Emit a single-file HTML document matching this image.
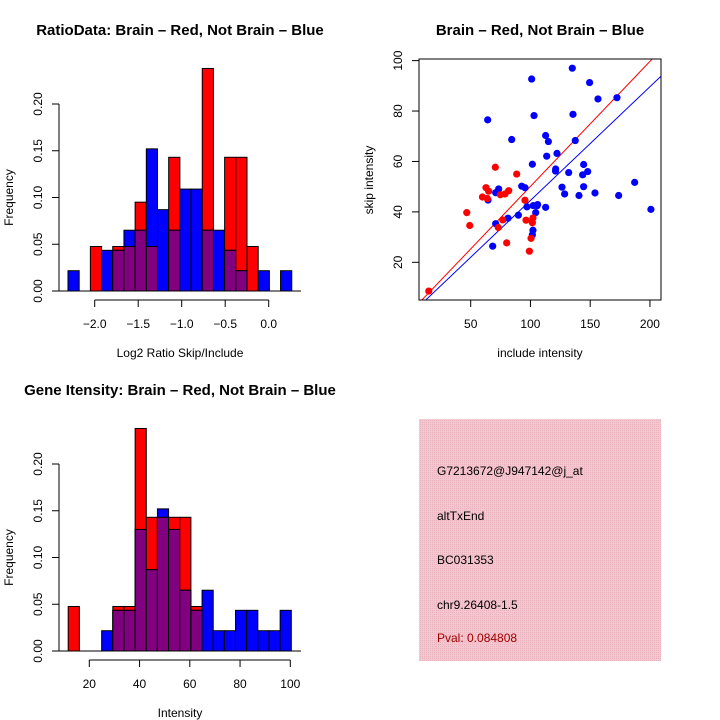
<!DOCTYPE html>
<html><head><meta charset="utf-8"><style>
body{margin:0;background:#fff}
svg{display:block;font-family:"Liberation Sans",sans-serif}
</style></head><body>
<svg id="s" width="720" height="720" viewBox="0 0 720 720">
<defs>
<pattern id="pk" width="2" height="2" patternUnits="userSpaceOnUse"><rect width="2" height="2" fill="#f4c6cf"/><rect width="1" height="1" fill="#e9b2bd"/></pattern>
</defs>
<g id="h1"></g>
<g id="sc"></g>
<g id="h2"></g>
<g>
<rect x="419" y="419" width="242" height="242" fill="url(#pk)"/>
<g font-size="12">
<text x="437" y="475">G7213672@J947142@j_at</text>
<text x="437" y="520">altTxEnd</text>
<text x="437" y="564">BC031353</text>
<text x="437" y="609">chr9.26408-1.5</text>
<text x="437" y="642" fill="#a00000">Pval: 0.084808</text>
</g></g>
</svg>
<script>
// Ratio histogram data (20 bins)
const ratioRed  = [0,0,0.0476,0,0.0476,0.0476,0.095,0.0476,0,0.143,0,0,0.238,0,0.143,0.143,0.0476,0,0,0];
const ratioBlue = [0.0217,0,0,0.0435,0.0435,0.065,0.065,0.152,0.087,0.065,0.109,0.109,0.065,0.065,0.0435,0.0217,0,0.0217,0,0.0217];
const ratioStart = -2.307, ratioBinW = 0.1286;
const ratioTicks = [-2.0,-1.5,-1.0,-0.5,0.0];
// Intensity histogram data (20 bins)
const intRed  = [0.0476,0,0,0,0.0476,0.0476,0.238,0.143,0.143,0.143,0.143,0.0476,0,0,0,0,0,0,0,0];
const intBlue = [0,0,0,0.0217,0.0435,0.0435,0.130,0.087,0.152,0.130,0.065,0.0435,0.065,0.0217,0.0217,0.0435,0.0435,0.0217,0.0217,0.0435];
const intStart = 11.6, intBinW = 4.44;
const intTicks = [20,40,60,80,100];
const freqTicks = [0,0.05,0.10,0.15,0.20];
const freqLabels = ["0.00","0.05","0.10","0.15","0.20"];
// Scatter data
const redX = [14.9,46.7,49.2,70.6,88.5,62.8,65.0,59.8,63.9,74.8,78.7,81.8,95.4,96.3,76.8,73.1,80.1,100.5,102.1,101.6,99.1];
const redY = [8.6,39.7,34.6,57.7,55.0,49.6,48.2,45.9,45.3,46.8,47.1,48.4,44.6,36.7,36.8,33.8,27.7,29.5,37.6,35.7,24.4];
const blueX = [135.0,101.0,149.5,156.5,172.4,64.2,103.0,135.6,84.3,112.7,115.0,137.5,113.6,122.2,101.6,121.1,121,132.0,144.5,147.9,143.7,126.4,144.5,128.6,140.6,154.0,173.8,187.2,200.8,92.7,95.4,73.4,70.9,64.5,97.1,102.4,106.0,105.5,112.7,104.4,89.9,81.2,70.9,102.1,101.6,68.4];
const blueY = [97.0,92.7,91.3,84.8,85.3,76.5,78.2,78.7,68.7,70.3,67.9,68.3,62.1,63.2,58.9,57.0,56.2,55.6,58.8,56.0,54.7,49.8,50.0,47.1,46.5,47.5,46.5,51.7,41.0,50.2,49.6,49.1,47.6,44.7,42.0,42.5,42.9,42.4,41.8,39.7,38.7,37.5,35.3,32.7,30.9,26.4];
const redFit = [0.496, 0.5];   // slope, intercept
const blueFit = [0.451, -0.55];
const scXTicks = [50,100,150,200];
const scYTicks = [20,40,60,80,100];

const NS="http://www.w3.org/2000/svg";
function mk(p,t,a){const e=document.createElementNS(NS,t);for(const k in a)e.setAttribute(k,a[k]);p.appendChild(e);return e;}

function hist(g, red, blue, start, bw, xTicks, xs, base, titleTxt, titleX, titleY, xlab, xlabY, tickFmt){
  const ys = v => base - v*935;
  const x = v => xs(v);
  for(let i=0;i<red.length;i++){
    const x0=x(start+i*bw), x1=x(start+(i+1)*bw);
    const r=red[i], b=blue[i];
    if(r>0){const e=mk(g,'rect',{x:x0,y:ys(r),width:x1-x0,height:ys(0)-ys(r),fill:'#ff0000',stroke:'#000','stroke-width':1});
      
      }
    if(b>0){const e=mk(g,'rect',{x:x0,y:ys(b),width:x1-x0,height:ys(0)-ys(b),fill:'#0000ff',stroke:'#000','stroke-width':1});
      
      }
    const m=Math.min(r,b);
    if(m>0){const e=mk(g,'rect',{x:x0,y:ys(m),width:x1-x0,height:ys(0)-ys(m),fill:'#800080',stroke:'#000','stroke-width':1});
      
      }
  }
  mk(g,'line',{x1:x(start)-15,y1:base,x2:301,y2:base,stroke:'#000'});
  mk(g,'line',{x1:59,y1:ys(0),x2:59,y2:ys(0.2),stroke:'#000'});
  freqTicks.forEach((t,i)=>{mk(g,'line',{x1:52,y1:ys(t),x2:59,y2:ys(t),stroke:'#000'});
    const tx=mk(g,'text',{x:42,y:ys(t),'font-size':12,'text-anchor':'middle',transform:`rotate(-90 42 ${ys(t)})`});tx.textContent=freqLabels[i];
    
    });
  const ay=base+9;
  mk(g,'line',{x1:x(xTicks[0]),y1:ay,x2:x(xTicks[xTicks.length-1]),y2:ay,stroke:'#000'});
  xTicks.forEach(t=>{mk(g,'line',{x1:x(t),y1:ay,x2:x(t),y2:ay+7,stroke:'#000'});
    const tx=mk(g,'text',{x:x(t),y:ay+28,'font-size':12,'text-anchor':'middle'});tx.textContent=tickFmt(t);
    
    });
  let t=mk(g,'text',{x:titleX,y:titleY,'font-size':15,'font-weight':'bold','text-anchor':'middle'});t.textContent=titleTxt;
  
  
  t=mk(g,'text',{x:180,y:xlabY,'font-size':12,'text-anchor':'middle'});t.textContent=xlab;
  
  
  const cy=(ys(0)+ys(0.2))/2;
  t=mk(g,'text',{x:13,y:cy,'font-size':12,'text-anchor':'middle',transform:`rotate(-90 13 ${cy})`});t.textContent='Frequency';
  
  
}
hist(document.getElementById('h1'),ratioRed,ratioBlue,ratioStart,ratioBinW,ratioTicks,v=>268.7+v*87,291,
 'RatioData: Brain \u2013 Red, Not Brain \u2013 Blue',180,35,'Log2 Ratio Skip/Include',357,t=>t.toFixed(1).replace('-','\u2212'));
hist(document.getElementById('h2'),intRed,intBlue,intStart,intBinW,intTicks,v=>89.3+(v-20)*2.5125,651,
 'Gene Itensity: Brain \u2013 Red, Not Brain \u2013 Blue',180,395,'Intensity',717,t=>String(t));

(function(){
  const g=document.getElementById('sc');
  const sx=v=>470.7+(v-50)*1.195, sy=v=>262.3-(v-20)*2.521;
  const L=419,R=661,T=59,B=300;
  const cp=mk(g,'clipPath',{id:'cp'});mk(cp,'rect',{x:L,y:T,width:R-L,height:B-T});
  [[redFit,'#ff0000'],[blueFit,'#0000ff']].forEach(([f,c])=>{
    const xa=0,xb=230;
    const l=mk(g,'line',{x1:sx(xa),y1:sy(f[0]*xa+f[1]),x2:sx(xb),y2:sy(f[0]*xb+f[1]),stroke:c,'stroke-width':1,'clip-path':'url(#cp)'});
    
    
  });
  blueX.forEach((v,i)=>{const c=mk(g,'circle',{cx:sx(v),cy:sy(blueY[i]),r:3.6,fill:'#0000ff'});
    
    });
  redX.forEach((v,i)=>{const c=mk(g,'circle',{cx:sx(v),cy:sy(redY[i]),r:3.6,fill:'#ff0000'});
    
    });
  mk(g,'rect',{x:L,y:T,width:R-L,height:B-T,fill:'none',stroke:'#000'});
  scXTicks.forEach(t=>{mk(g,'line',{x1:sx(t),y1:B,x2:sx(t),y2:B+7,stroke:'#000'});
    const tx=mk(g,'text',{x:sx(t),y:B+28,'font-size':12,'text-anchor':'middle'});tx.textContent=t;
    
    });
  scYTicks.forEach(t=>{mk(g,'line',{x1:L-7,y1:sy(t),x2:L,y2:sy(t),stroke:'#000'});
    const tx=mk(g,'text',{x:402,y:sy(t),'font-size':12,'text-anchor':'middle',transform:`rotate(-90 402 ${sy(t)})`});tx.textContent=t;
    
    });
  let t=mk(g,'text',{x:540,y:35,'font-size':15,'font-weight':'bold','text-anchor':'middle'});t.textContent='Brain \u2013 Red, Not Brain \u2013 Blue';
  
  
  t=mk(g,'text',{x:540,y:357,'font-size':12,'text-anchor':'middle'});t.textContent='include intensity';
  
  
  t=mk(g,'text',{x:373,y:180,'font-size':12,'text-anchor':'middle',transform:'rotate(-90 373 180)'});t.textContent='skip intensity';
  
  
})();
</script>
</body></html>
